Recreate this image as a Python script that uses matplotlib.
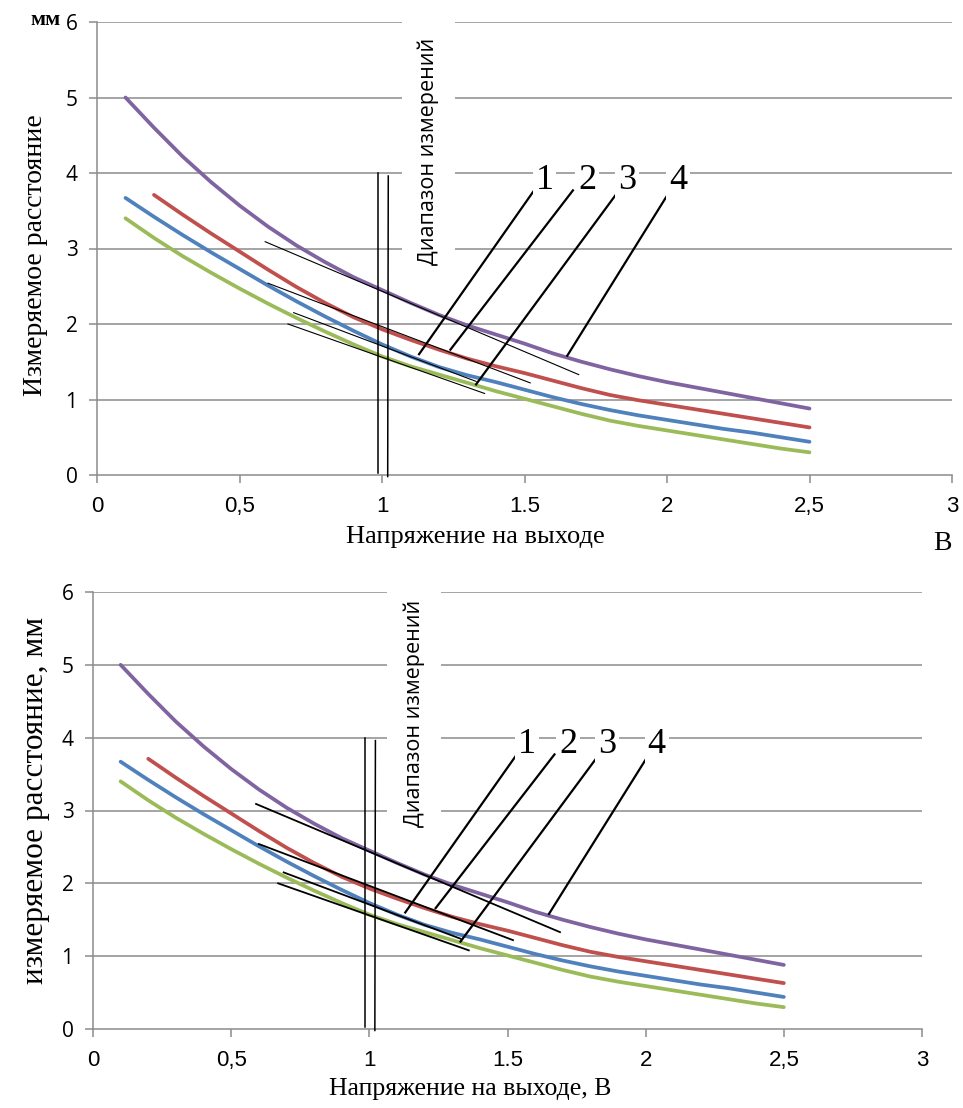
import matplotlib.pyplot as plt

W, H = 963, 1108

# Output voltage, V (curve points)
volt = [0.1, 0.2, 0.3, 0.4, 0.5, 0.6, 0.7, 0.8, 0.9, 1.0, 1.1, 1.2, 1.3,
        1.4, 1.5, 1.6, 1.7, 1.8, 1.9, 2.0, 2.1, 2.2, 2.3, 2.4, 2.5]
volt_2 = volt[1:]

# Measured distance, mm
dist_1 = [3.67, 3.42, 3.18, 2.95, 2.73, 2.51, 2.30, 2.10, 1.91, 1.73, 1.57, 1.43, 1.32,
          1.23, 1.13, 1.03, 0.94, 0.86, 0.79, 0.73, 0.67, 0.61, 0.56, 0.50, 0.44]
dist_2 = [3.71, 3.45, 3.20, 2.96, 2.72, 2.49, 2.28, 2.09, 1.93, 1.79, 1.66, 1.54,
          1.44, 1.35, 1.25, 1.15, 1.06, 0.99, 0.93, 0.87, 0.81, 0.75, 0.69, 0.63]
dist_3 = [3.40, 3.14, 2.90, 2.68, 2.47, 2.27, 2.08, 1.90, 1.73, 1.57, 1.44, 1.33, 1.22,
          1.11, 1.01, 0.91, 0.81, 0.72, 0.65, 0.59, 0.53, 0.47, 0.41, 0.35, 0.30]
dist_4 = [5.00, 4.60, 4.22, 3.88, 3.57, 3.29, 3.04, 2.82, 2.62, 2.45, 2.28, 2.12, 1.98,
          1.86, 1.74, 1.61, 1.50, 1.40, 1.31, 1.23, 1.16, 1.09, 1.02, 0.95, 0.88]

colors = {"1": "#4F81BD", "2": "#C0504D", "3": "#9BBB59", "4": "#8064A2"}

# thin tangent lines drawn by hand on the curves
tan_1 = ([0.69, 1.33], [2.15, 1.24])
tan_2 = ([0.60, 1.52], [2.54, 1.22])
tan_3 = ([0.67, 1.36], [2.00, 1.08])
tan_4 = ([0.59, 1.69], [3.09, 1.33])

# range marks (two vertical strokes)
range_a = ([0.985, 0.985], [4.0, 0.03])
range_b = ([1.022, 1.020], [3.96, -0.02])

# leader lines and curve numbers
labels = ["1", "2", "3", "4"]
label_x = [1.57, 1.72, 1.86, 2.04]
label_y = [3.90, 3.90, 3.90, 3.90]
lead_x0 = [1.53, 1.67, 1.82, 2.01]
lead_y0 = [3.75, 3.77, 3.71, 3.76]
lead_x1 = [1.13, 1.24, 1.33, 1.65]
lead_y1 = [1.60, 1.66, 1.20, 1.58]

xticks = [0, 0.5, 1, 1.5, 2, 2.5, 3]
xtick_labels = ["0", "0,5", "1", "1.5", "2", "2,5", "3"]
yticks = [0, 1, 2, 3, 4, 5, 6]

SERIF = ["Liberation Serif", "DejaVu Serif"]
SANS = ["Open Sans", "DejaVu Sans"]
NARROW = ["Liberation Sans Narrow", "Liberation Sans", "DejaVu Sans"]
GRID = "#8c8c8c"


def panel(ax, tan_lw):
    for y in yticks[1:]:
        ax.axhline(y, color=GRID, lw=1.1, zorder=1)
    ax.plot(volt, dist_4, color=colors["4"], lw=2.7, zorder=3, solid_capstyle="round")
    ax.plot(volt_2, dist_2, color=colors["2"], lw=2.7, zorder=3, solid_capstyle="round")
    ax.plot(volt, dist_1, color=colors["1"], lw=2.7, zorder=3, solid_capstyle="round")
    ax.plot(volt, dist_3, color=colors["3"], lw=2.7, zorder=3, solid_capstyle="round")

    for t in (tan_1, tan_2, tan_3, tan_4):
        ax.plot(t[0], t[1], color="black", lw=tan_lw, zorder=4)
    for r in (range_a, range_b):
        ax.plot(r[0], r[1], color="black", lw=1.1, zorder=4, clip_on=False)

    ax.text(1.163, 2.78, "Диапазон измерений", rotation=90, ha="center", va="bottom",
            family=SANS, fontsize=15.5, zorder=2,
            bbox=dict(boxstyle="square,pad=0.75", fc="white", ec="none"))

    for i, lab in enumerate(labels):
        ax.plot([lead_x0[i], lead_x1[i]], [lead_y0[i], lead_y1[i]],
                color="black", lw=1.6, zorder=5)
        ax.text(label_x[i], label_y[i], lab, family=SERIF, fontsize=26,
                ha="center", va="center", zorder=5,
                bbox=dict(boxstyle="square,pad=0.08", fc="white", ec="none"))

    ax.set_xlim(0, 3)
    ax.set_ylim(0, 6)
    ax.set_xticks(xticks)
    ax.set_xticklabels(xtick_labels, family=NARROW, fontsize=16)
    ax.set_yticks(yticks)
    ax.set_yticklabels([str(v) for v in yticks], family=SANS, fontsize=15)
    for s in ("top", "right"):
        ax.spines[s].set_visible(False)
    for s in ("left", "bottom"):
        ax.spines[s].set_color(GRID)
        ax.spines[s].set_linewidth(1.1)
    ax.tick_params(axis="both", direction="out", length=6, color=GRID, width=1.1)
    ax.tick_params(axis="x", pad=9)
    ax.tick_params(axis="y", pad=8)


def px(x, y):
    return x / W, 1 - y / H


fig = plt.figure(figsize=(W / 100, H / 100), dpi=100)

ax1 = fig.add_axes([97 / W, 1 - 475 / H, (952 - 97) / W, (475 - 22) / H])
panel(ax1, 0.8)
ax2 = fig.add_axes([93 / W, 1 - 1029 / H, (922 - 93) / W, (1029 - 592) / H])
panel(ax2, 1.3)

fig.text(*px(46, 20), "мм", family=SERIF, fontsize=16, weight="bold", ha="center", va="center")
fig.text(*px(35, 255), "Измеряемое расстояние", family=SERIF, fontsize=20,
         rotation=90, ha="center", va="center")
fig.text(*px(475, 537), "Напряжение на выходе", family=SERIF, fontsize=19,
         ha="center", va="center")
fig.text(*px(942, 543), "В", family=SERIF, fontsize=20, ha="center", va="center")

fig.text(*px(35, 800), "измеряемое расстояние, мм", family=SERIF, fontsize=22.5,
         rotation=90, ha="center", va="center")
fig.text(*px(470, 1089), "Напряжение на выходе, В", family=SERIF, fontsize=18.5,
         ha="center", va="center")

fig.savefig("out.png", dpi=100)
